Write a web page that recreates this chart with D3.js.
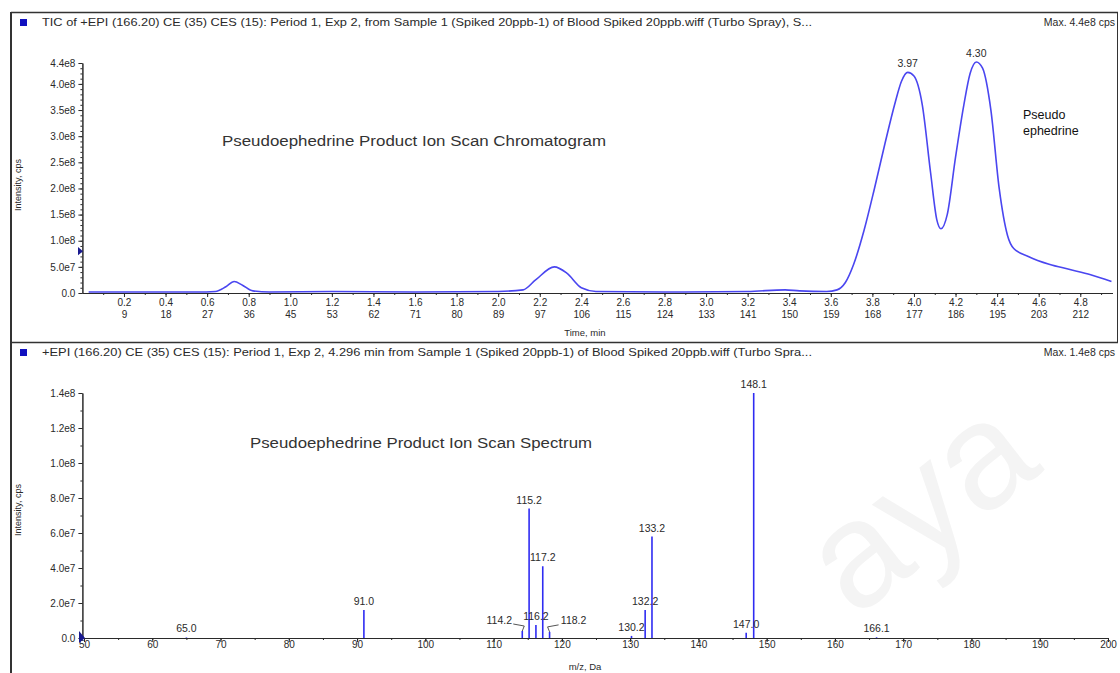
<!DOCTYPE html>
<html>
<head>
<meta charset="utf-8">
<script src="https://cdn.jsdelivr.net/npm/d3@7"></script>
<style>
  html, body { margin: 0; padding: 0; background: #fff; }
  svg { display: block; }
  text { font-family: "Liberation Sans", Arial, sans-serif; }
</style>
</head>
<body>
<svg id="chart" width="1120" height="673"></svg>
<script>
// ---- Chromatogram (TIC) ----
const chromTitle = "TIC of +EPI (166.20) CE (35) CES (15): Period 1, Exp 2, from Sample 1 (Spiked 20ppb-1) of Blood Spiked 20ppb.wiff (Turbo Spray), S...";
const chromMax = "Max. 4.4e8 cps";
const chromTime = [0.03, 0.30, 0.55, 0.64, 0.69, 0.73, 0.77, 0.82, 0.90, 1.20, 1.60, 2.00, 2.12, 2.18, 2.27, 2.33, 2.40, 2.47, 2.80, 3.20, 3.38, 3.45, 3.58, 3.63, 3.67, 3.71, 3.76, 3.81, 3.86, 3.91, 3.94, 3.97, 4.00, 4.04, 4.08, 4.11, 4.13, 4.16, 4.20, 4.24, 4.27, 4.30, 4.33, 4.37, 4.41, 4.45, 4.48, 4.55, 4.65, 4.75, 4.85, 4.95];
const chromIntensity = [0.02e8, 0.02e8, 0.02e8, 0.03e8, 0.12e8, 0.22e8, 0.15e8, 0.04e8, 0.02e8, 0.03e8, 0.02e8, 0.03e8, 0.06e8, 0.25e8, 0.50e8, 0.38e8, 0.10e8, 0.03e8, 0.02e8, 0.03e8, 0.06e8, 0.04e8, 0.03e8, 0.06e8, 0.20e8, 0.55e8, 1.20e8, 2.00e8, 2.85e8, 3.65e8, 4.05e8, 4.22e8, 4.15e8, 3.60e8, 2.30e8, 1.40e8, 1.23e8, 1.50e8, 2.60e8, 3.60e8, 4.20e8, 4.42e8, 4.30e8, 3.50e8, 2.00e8, 1.10e8, 0.85e8, 0.70e8, 0.55e8, 0.45e8, 0.35e8, 0.22e8];
const chromPeakLabels = ["3.97", "4.30"];
const chromPeakTimes = [3.97, 4.30];
const chromPeakHeights = [4.22e8, 4.42e8];
const chromYTicks = [0, 0.5e8, 1.0e8, 1.5e8, 2.0e8, 2.5e8, 3.0e8, 3.5e8, 4.0e8, 4.4e8];
const chromYTickLabels = ["0.0", "5.0e7", "1.0e8", "1.5e8", "2.0e8", "2.5e8", "3.0e8", "3.5e8", "4.0e8", "4.4e8"];
const chromXTicks = [0.2, 0.4, 0.6, 0.8, 1.0, 1.2, 1.4, 1.6, 1.8, 2.0, 2.2, 2.4, 2.6, 2.8, 3.0, 3.2, 3.4, 3.6, 3.8, 4.0, 4.2, 4.4, 4.6, 4.8];
const chromScanLabels = ["9", "18", "27", "36", "45", "53", "62", "71", "80", "89", "97", "106", "115", "124", "133", "141", "150", "159", "168", "177", "186", "195", "203", "212"];

// ---- Product ion spectrum ----
const specTitle = "+EPI (166.20) CE (35) CES (15): Period 1, Exp 2, 4.296 min from Sample 1 (Spiked 20ppb-1) of Blood Spiked 20ppb.wiff (Turbo Spra...";
const specMax = "Max. 1.4e8 cps";
const specMz = [65.0, 91.0, 114.2, 115.2, 116.2, 117.2, 118.2, 130.2, 132.2, 133.2, 147.0, 148.1, 166.1];
const specIntensity = [0.03e7, 1.6e7, 0.40e7, 7.4e7, 0.75e7, 4.1e7, 0.35e7, 0.12e7, 1.6e7, 5.8e7, 0.30e7, 14.0e7, 0.04e7];
const specLabels = ["65.0", "91.0", "114.2", "115.2", "116.2", "117.2", "118.2", "130.2", "132.2", "133.2", "147.0", "148.1", "166.1"];
const specYTicks = [0, 2e7, 4e7, 6e7, 8e7, 10e7, 12e7, 14e7];
const specYTickLabels = ["0.0", "2.0e7", "4.0e7", "6.0e7", "8.0e7", "1.0e8", "1.2e8", "1.4e8"];
const specXTicks = [50, 60, 70, 80, 90, 100, 110, 120, 130, 140, 150, 160, 170, 180, 190, 200];

const svg = d3.select("#chart");
const ink = "#2a2a2a";
const trace = "#4a46f0";
const stick = "#2f2cf2";

// faint background watermark
svg.append("text")
  .attr("transform", "translate(1045,470) rotate(-38)")
  .attr("text-anchor", "end")
  .attr("font-family", "Liberation Sans, Arial, sans-serif")
  .attr("font-size", 150)
  .attr("fill", "#f4f4f4")
  .text("aya");

// panel frame
const frame = svg.append("g").attr("stroke", "#333").attr("fill", "none");
frame.append("line").attr("x1", 11).attr("x2", 11).attr("y1", 12).attr("y2", 673).attr("stroke-width", 2);
frame.append("line").attr("x1", 11).attr("x2", 1118).attr("y1", 12.5).attr("y2", 12.5).attr("stroke-width", 1.5);
frame.append("line").attr("x1", 1117.5).attr("x2", 1117.5).attr("y1", 12).attr("y2", 342);
frame.append("line").attr("x1", 11).attr("x2", 1118).attr("y1", 342.5).attr("y2", 342.5).attr("stroke-width", 1.5);

function header(y, title, maxText) {
  svg.append("rect").attr("x", 20).attr("y", y - 7).attr("width", 7).attr("height", 7).attr("fill", "#1010c0");
  svg.append("text").attr("x", 42).attr("y", y).attr("font-size", 10.5).attr("fill", ink)
    .attr("textLength", 770).attr("lengthAdjust", "spacingAndGlyphs").text(title);
  svg.append("text").attr("x", 1115).attr("y", y).attr("text-anchor", "end").attr("font-size", 10.5).attr("fill", ink).text(maxText);
}

// ================= top panel =================
header(26, chromTitle, chromMax);

const xT = d3.scaleLinear().domain([0, 4.955]).range([82.4, 1112.5]);
const yT = d3.scaleLinear().domain([0, 4.4e8]).range([293, 63]);

const gT = svg.append("g");
// y axis
const yAxisT = d3.axisLeft(yT).tickValues(chromYTicks).tickFormat((d, i) => chromYTickLabels[i]).tickSize(4).tickSizeOuter(0);
gT.append("g").attr("transform", "translate(82.4,0)").call(yAxisT)
  .call(g => g.selectAll("text").attr("font-size", 10).attr("fill", ink).attr("font-family", "Liberation Sans, Arial, sans-serif"))
  .call(g => g.selectAll("line,path").attr("stroke", ink));
gT.append("g").attr("transform", "translate(82.4,0)")
  .call(d3.axisLeft(yT).tickValues(d3.range(0, 4.41e8, 1e7)).tickFormat("").tickSize(2).tickSizeOuter(0))
  .call(g => g.selectAll("line,path").attr("stroke", ink));
// x axis
gT.append("g").attr("transform", "translate(0,293)")
  .call(d3.axisBottom(xT).tickValues(d3.range(0.1, 4.95, 0.1)).tickFormat("").tickSize(2).tickSizeOuter(0))
  .call(g => g.selectAll("line,path").attr("stroke", ink));
const xAxisT = gT.append("g").attr("transform", "translate(0,293)")
  .call(d3.axisBottom(xT).tickValues(chromXTicks).tickFormat(d => d.toFixed(1)).tickSize(4).tickSizeOuter(0));
xAxisT.selectAll("line,path").attr("stroke", ink);
xAxisT.selectAll("text").attr("font-size", 10).attr("fill", ink).attr("dy", "0.55em")
  .attr("font-family", "Liberation Sans, Arial, sans-serif");
xAxisT.selectAll(".tick").append("text")
  .attr("y", 25).attr("fill", ink).attr("font-size", 10).attr("text-anchor", "middle")
  .attr("font-family", "Liberation Sans, Arial, sans-serif")
  .text((d, i) => chromScanLabels[i]);
gT.append("text").attr("x", 585).attr("y", 336).attr("text-anchor", "middle").attr("font-size", 9.5).attr("fill", ink).text("Time, min");
gT.append("text").attr("transform", "translate(21,185) rotate(-90)").attr("text-anchor", "middle")
  .attr("font-size", 9).attr("fill", ink).text("Intensity, cps");
// threshold marker
gT.append("path").attr("d", `M78,${yT(0.88e8)}L83,${yT(0.80e8)}L78,${yT(0.72e8)}Z`).attr("fill", "#1a1a90");

// trace
const chromPts = chromTime.map((t, i) => [t, chromIntensity[i]]);
gT.append("path").datum(chromPts)
  .attr("fill", "none").attr("stroke", trace).attr("stroke-width", 1.6)
  .attr("d", d3.line().x(d => xT(d[0])).y(d => yT(d[1])).curve(d3.curveMonotoneX));
gT.selectAll(".pk").data(chromPeakLabels).join("text")
  .attr("x", (d, i) => xT(chromPeakTimes[i])).attr("y", (d, i) => yT(chromPeakHeights[i]) - 5)
  .attr("text-anchor", "middle").attr("font-size", 10.5).attr("fill", ink).text(d => d);

gT.append("text").attr("x", 222).attr("y", 146).attr("font-size", 14).attr("fill", "#333")
  .attr("textLength", 384).attr("lengthAdjust", "spacingAndGlyphs")
  .text("Pseudoephedrine Product Ion Scan Chromatogram");
const ann = gT.append("text").attr("font-family", "Open Sans, sans-serif").attr("font-size", 12.5).attr("fill", "#111");
ann.append("tspan").attr("x", 1023).attr("y", 119).text("Pseudo");
ann.append("tspan").attr("x", 1023).attr("y", 135).text("ephedrine");

// ================= bottom panel =================
header(356, specTitle, specMax);

const xB = d3.scaleLinear().domain([50, 200]).range([84, 1108]);
const yB = d3.scaleLinear().domain([0, 1.4e8]).range([638, 393]);
const gB = svg.append("g");

gB.append("g").attr("transform", "translate(82.4,0)")
  .call(d3.axisLeft(yB).tickValues(d3.range(0, 1.41e8, 1e7)).tickFormat("").tickSize(2).tickSizeOuter(0))
  .call(g => g.selectAll("line,path").attr("stroke", ink));
gB.append("g").attr("transform", "translate(82.4,0)")
  .call(d3.axisLeft(yB).tickValues(specYTicks).tickFormat((d, i) => specYTickLabels[i]).tickSize(4).tickSizeOuter(0))
  .call(g => g.selectAll("text").attr("font-size", 10).attr("fill", ink).attr("font-family", "Liberation Sans, Arial, sans-serif"))
  .call(g => g.selectAll("line,path").attr("stroke", ink));
gB.append("g").attr("transform", "translate(0,638)")
  .call(d3.axisBottom(xB).tickValues(d3.range(55, 200, 5)).tickFormat("").tickSize(2).tickSizeOuter(0))
  .call(g => g.selectAll("line,path").attr("stroke", ink));
const xAxisB = gB.append("g").attr("transform", "translate(0,638)")
  .call(d3.axisBottom(xB).tickValues(specXTicks).tickFormat(d3.format("d")).tickSize(4).tickSizeOuter(0));
xAxisB.selectAll("line,path").attr("stroke", ink);
xAxisB.selectAll("text").attr("font-size", 10).attr("fill", ink).attr("dy", "0.3em")
  .attr("font-family", "Liberation Sans, Arial, sans-serif");
gB.append("text").attr("x", 585).attr("y", 670).attr("text-anchor", "middle").attr("font-size", 9.5).attr("fill", ink).text("m/z, Da");
gB.append("text").attr("transform", "translate(21,510) rotate(-90)").attr("text-anchor", "middle")
  .attr("font-size", 9).attr("fill", ink).text("Intensity, cps");
gB.append("path").attr("d", "M79,631L85,638L79,643Z").attr("fill", "#1a1a90");

// sticks
gB.selectAll(".stick").data(specMz).join("line")
  .attr("x1", d => xB(d)).attr("x2", d => xB(d))
  .attr("y1", yB(0)).attr("y2", (d, i) => yB(specIntensity[i]))
  .attr("stroke", stick).attr("stroke-width", 1.6);

// label placement: most labels sit centred above their stick; a few are pushed aside with a leader
const labelShift = { "114.2": [-23, -2], "118.2": [24, -3] };
gB.selectAll(".slab").data(specLabels).join("text")
  .attr("x", (d, i) => xB(specMz[i]) + (labelShift[d] ? labelShift[d][0] : 0))
  .attr("y", (d, i) => yB(specIntensity[i]) - 5 + (labelShift[d] ? labelShift[d][1] : 0))
  .attr("text-anchor", "middle").attr("font-size", 10.5).attr("fill", ink).text(d => d);
specLabels.forEach((d, i) => {
  if (!labelShift[d]) return;
  const x = xB(specMz[i]), y = yB(specIntensity[i]);
  const dir = Math.sign(labelShift[d][0]);
  gB.append("path")
    .attr("d", `M${x},${y}L${x - dir * 2},${y - 5}L${x + dir * 9},${y - 7}`)
    .attr("fill", "none").attr("stroke", ink).attr("stroke-width", 0.8);
});

gB.append("text").attr("x", 250).attr("y", 448).attr("font-size", 14).attr("fill", "#333")
  .attr("textLength", 342).attr("lengthAdjust", "spacingAndGlyphs")
  .text("Pseudoephedrine Product Ion Scan Spectrum");
</script>
</body>
</html>
